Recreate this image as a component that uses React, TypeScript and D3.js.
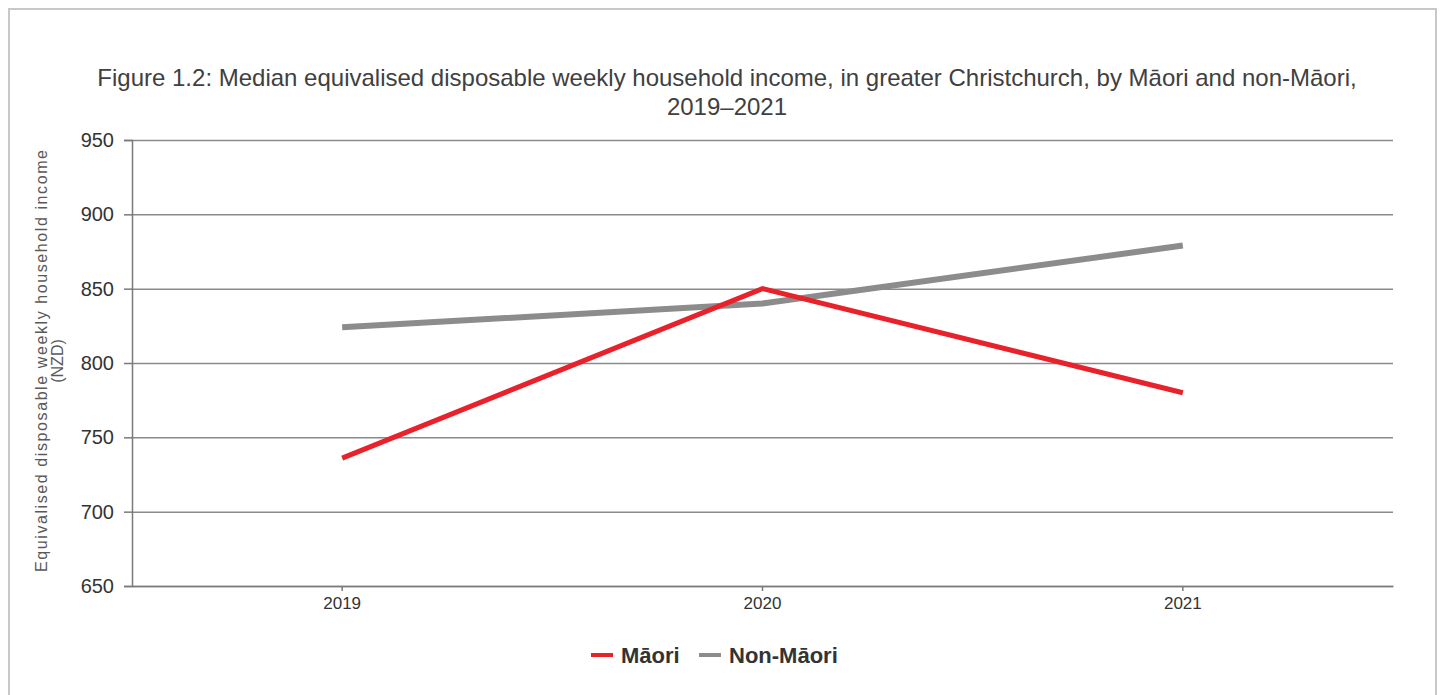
import React, { useEffect, useRef } from 'react';
import * as d3 from 'd3';

const years = ['2019', '2020', '2021'];
const maoriValues = [736, 850, 780];
const nonMaoriValues = [824, 840, 879];
const yTicks = [650, 700, 750, 800, 850, 900, 950];
const titleLines = [
  'Figure 1.2: Median equivalised disposable weekly household income, in greater Christchurch, by Māori and non-Māori,',
  '2019–2021',
];
const yLabelLines = ['Equivalised disposable weekly household income', '(NZD)'];

type Series = { name: string; values: number[]; color: string; width: number };

const series: Series[] = [
  { name: 'Māori', values: maoriValues, color: '#e8212b', width: 5 },
  { name: 'Non-Māori', values: nonMaoriValues, color: '#8c8c8c', width: 6 },
];

const App: React.FC = () => {
  const svgRef = useRef<SVGSVGElement | null>(null);

  useEffect(() => {
    if (!svgRef.current) return;

    const width = 1444;
    const height = 695;
    const margin = { top: 140, right: 51, bottom: 109, left: 132 };
    const font = '"Liberation Sans", Arial, sans-serif';

    const svg = d3.select(svgRef.current);
    svg.selectAll('*').remove();

    // outer frame
    svg
      .append('rect')
      .attr('x', 9)
      .attr('y', 9)
      .attr('width', 1427)
      .attr('height', 700)
      .attr('fill', '#fff')
      .attr('stroke', '#c8c8c8')
      .attr('stroke-width', 2);

    const x = d3
      .scaleBand<string>()
      .domain(years)
      .range([margin.left, width - margin.right]);

    const y = d3
      .scaleLinear()
      .domain([650, 950])
      .range([height - margin.bottom, margin.top]);

    const cx = (d: string) => (x(d) as number) + x.bandwidth() / 2;

    // title
    titleLines.forEach((t, i) => {
      svg
        .append('text')
        .attr('x', 727)
        .attr('y', 86 + i * 29)
        .attr('text-anchor', 'middle')
        .attr('font-family', font)
        .attr('font-size', '24px')
        .attr('fill', '#404040')
        .text(t);
    });

    // horizontal gridlines
    svg
      .append('g')
      .attr('transform', `translate(${margin.left},0)`)
      .call(
        d3
          .axisLeft(y)
          .tickValues(yTicks)
          .tickSize(-(width - margin.left - margin.right))
          .tickFormat(() => '')
      )
      .call((g) => g.select('.domain').remove())
      .selectAll('line')
      .attr('stroke', '#8a8a8a')
      .attr('stroke-width', 1.5);

    // y axis
    const yAxis = svg
      .append('g')
      .attr('transform', `translate(${margin.left},0)`)
      .call(d3.axisLeft(y).tickValues(yTicks).tickSize(8).tickPadding(10));
    yAxis.select('.domain').attr('stroke', '#7a7a7a').attr('stroke-width', 1.5);
    yAxis.selectAll('line').attr('stroke', '#7a7a7a').attr('stroke-width', 1.5);
    yAxis
      .selectAll('text')
      .attr('fill', '#333')
      .attr('font-family', font)
      .attr('font-size', '20px');

    // x axis
    const xAxis = svg
      .append('g')
      .attr('transform', `translate(0,${height - margin.bottom})`)
      .call(d3.axisBottom(x).tickSize(5).tickPadding(6).tickSizeOuter(0));
    xAxis.select('.domain').attr('stroke', '#7a7a7a').attr('stroke-width', 1.5);
    xAxis.selectAll('line').attr('stroke', '#7a7a7a').attr('stroke-width', 1.5);
    xAxis
      .selectAll('text')
      .attr('fill', '#333')
      .attr('font-family', font)
      .attr('font-size', '17px');

    // y axis label
    const yMid = (margin.top + height - margin.bottom) / 2 - 2;
    yLabelLines.forEach((t, i) => {
      const txt = svg
        .append('text')
        .attr('transform', `translate(${47 + i * 16},${yMid}) rotate(-90)`)
        .attr('text-anchor', 'middle')
        .attr('font-family', font)
        .attr('font-size', '16px')
        .attr('fill', '#595959')
        .text(t);
      if (i === 0) txt.attr('textLength', 422).attr('lengthAdjust', 'spacing');
    });

    // lines
    const line = d3
      .line<number>()
      .x((_, i) => cx(years[i]))
      .y((d) => y(d));

    series
      .slice()
      .reverse()
      .forEach((s) => {
        svg
          .append('path')
          .datum(s.values)
          .attr('d', line)
          .attr('fill', 'none')
          .attr('stroke', s.color)
          .attr('stroke-width', s.width);
      });

    // legend
    const legend = svg
      .append('g')
      .attr('font-family', font)
      .attr('font-size', '22px')
      .attr('font-weight', 'bold')
      .attr('fill', '#333');
    const legendX = [591, 699];
    series.forEach((s, i) => {
      const g = legend.append('g').attr('transform', `translate(${legendX[i]},655)`);
      g.append('line')
        .attr('x1', 0)
        .attr('x2', 22)
        .attr('stroke', s.color)
        .attr('stroke-width', 4);
      g.append('text').attr('x', 30).attr('dy', '0.36em').text(s.name);
    });
  }, []);

  return (
    <svg
      ref={svgRef}
      width={1444}
      height={695}
      style={{ position: 'absolute', left: 0, top: 0, background: '#fff' }}
    />
  );
};

export default App;
